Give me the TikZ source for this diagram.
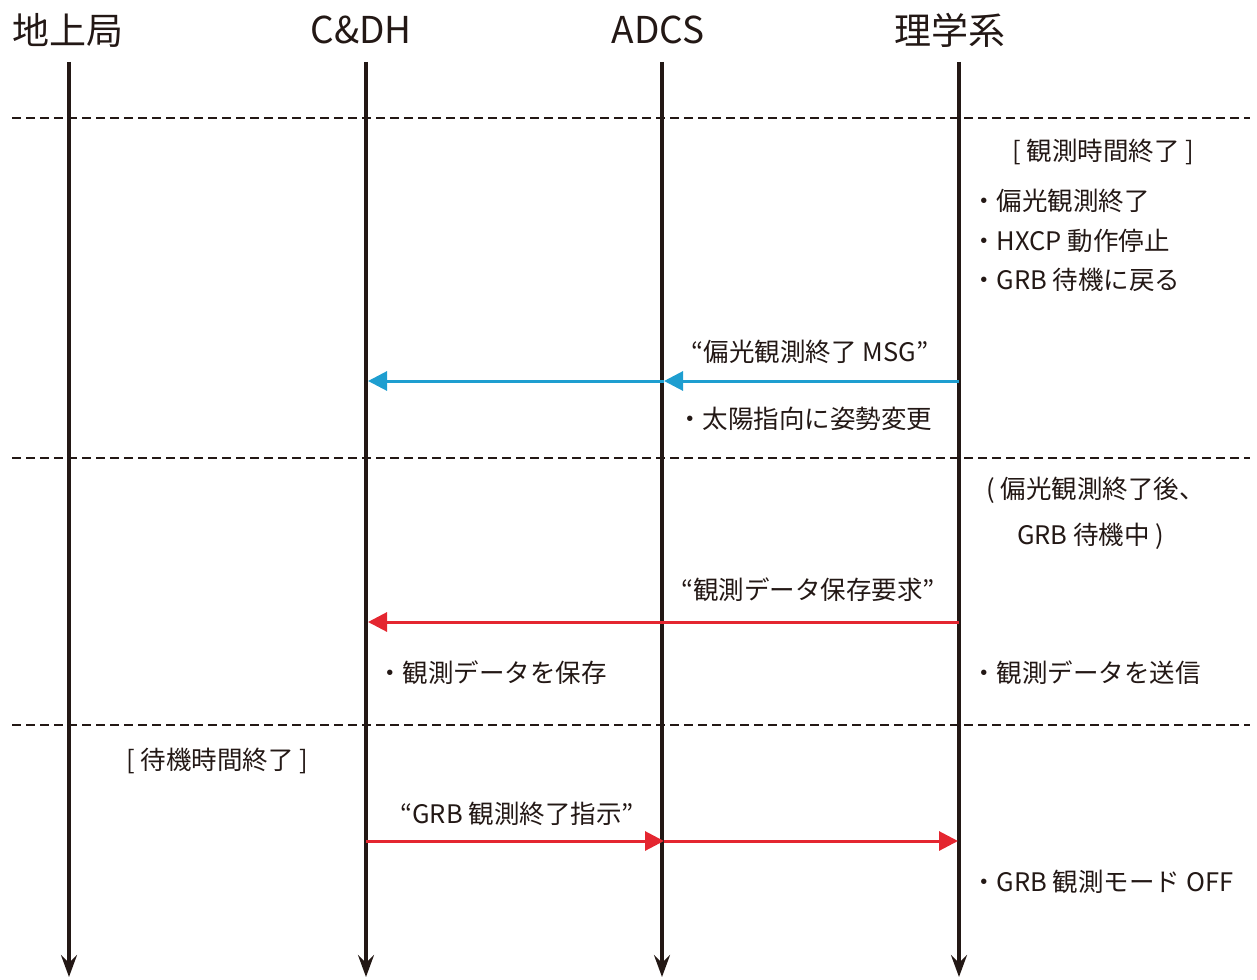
\documentclass[tikz,border=0pt]{standalone}
\usepackage{fontspec}
\setmainfont{Noto Sans CJK JP}
\usetikzlibrary{arrows.meta}
\definecolor{ink}{RGB}{35,24,21}
\definecolor{msgblue}{RGB}{30,158,208}
\definecolor{msgred}{RGB}{228,38,48}
\tikzset{
  life/.style={draw=ink,line width=4.5pt,-{Stealth[length=22pt,width=16pt,inset=8pt]}},
  phase/.style={draw=ink,line width=1.6pt,dash pattern=on 9pt off 5pt},
  msg/.style={line width=3pt,-{Triangle[length=19pt,width=19pt]}},
  head/.style={font=\fontsize{37}{40}\selectfont,text=ink,inner sep=0pt},
  txt/.style={font=\fontsize{25.5}{30}\selectfont,text=ink,inner sep=0pt},
}
\begin{document}
\begin{tikzpicture}[x=1pt,y=-1pt]
\useasboundingbox (0,0) rectangle (1257,979);
% headers
\node[head] (h1) at (68,30) {地上局};
\node[head] (h2) at (361,30) {C\&DH};
\node[head] (h3) at (658,30) {ADCS};
\node[head] (h4) at (950,30) {理学系};
% lifeline endpoints
\coordinate (t1) at (69,62);  \coordinate (b1) at (69,977);
\coordinate (t2) at (366,62); \coordinate (b2) at (366,977);
\coordinate (t3) at (662,62); \coordinate (b3) at (662,977);
\coordinate (t4) at (959,62); \coordinate (b4) at (959,977);
% phase separators
\coordinate (d1l) at (12,118); \coordinate (d1r) at (1250,118);
\coordinate (d2l) at (12,458); \coordinate (d2r) at (1250,458);
\coordinate (d3l) at (12,725); \coordinate (d3r) at (1250,725);
\draw[phase] (d1l) -- (d1r);
\draw[phase] (d2l) -- (d2r);
\draw[phase] (d3l) -- (d3r);
\draw[life] (t1) -- (b1);
\draw[life] (t2) -- (b2);
\draw[life] (t3) -- (b3);
\draw[life] (t4) -- (b4);
% messages
\coordinate (m1s) at (959,381); \coordinate (m1m) at (664,381); \coordinate (m1e) at (368,381);
\draw[msg,draw=msgblue,-{Triangle[length=19pt,width=19pt,fill=msgblue]}] (m1s) -- (m1m);
\draw[msg,draw=msgblue,-{Triangle[length=19pt,width=19pt,fill=msgblue]}] (m1m) -- (m1e);
\coordinate (m2s) at (959,622); \coordinate (m2e) at (368,622);
\draw[msg,draw=msgred] (m2s) -- (m2e);
\coordinate (m3s) at (366,841); \coordinate (m3m) at (664,841); \coordinate (m3e) at (958,841);
\draw[msg,draw=msgred] (m3s) -- (m3m);
\draw[msg,draw=msgred] (m3m) -- (m3e);
% texts
\node[txt] (n1) at (1103,152) {[ 観測時間終了 ]};
\node[txt,anchor=west] (n2) at (971,201) {・偏光観測終了};
\node[txt,anchor=west] (n3) at (971,241) {・HXCP 動作停止};
\node[txt,anchor=west] (n4) at (971,280) {・GRB 待機に戻る};
\node[txt] (l1) at (810,352) {“偏光観測終了 MSG”};
\node[txt,anchor=west] (n5) at (677,419) {・太陽指向に姿勢変更};
\node[txt,anchor=west] (n6) at (986,490) {( 偏光観測終了後、};
\node[txt,anchor=west] (n7) at (1017,536) {GRB 待機中 )};
\node[txt] (l2) at (808,590) {“観測データ保存要求”};
\node[txt,anchor=west] (n8) at (377,673) {・観測データを保存};
\node[txt,anchor=west] (n9) at (971,673) {・観測データを送信};
\node[txt] (n10) at (217,761) {[ 待機時間終了 ]};
\node[txt] (l3) at (517,814) {“GRB 観測終了指示”};
\node[txt,anchor=west] (n11) at (971,882) {・GRB 観測モード OFF};
\end{tikzpicture}
\end{document}
